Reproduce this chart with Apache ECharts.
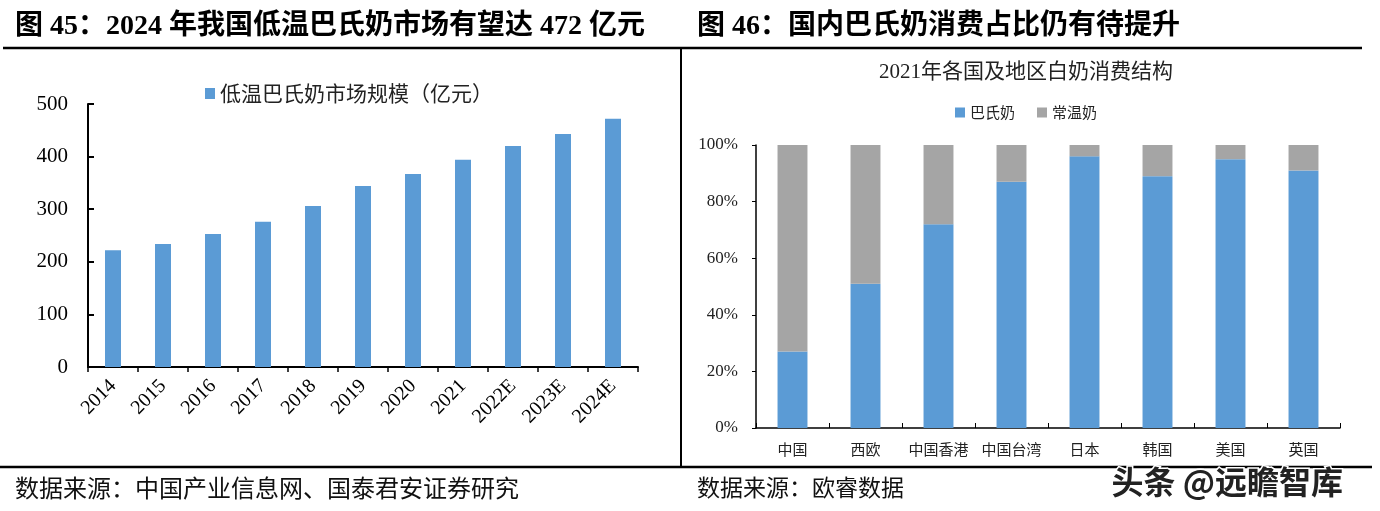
<!DOCTYPE html>
<html>
<head>
<meta charset="utf-8">
<script src="https://cdn.jsdelivr.net/npm/echarts@6/dist/echarts.min.js"></script>
<style>
html,body{margin:0;padding:0;background:#fff;}
#c{width:1380px;height:511px;}
</style>
</head>
<body>
<div id="c"></div>
<script>
// Left chart data
const yearsLeft = ['2014','2015','2016','2017','2018','2019','2020','2021','2022E','2023E','2024E'];
const marketSize = [222, 234, 253, 276, 306, 344, 367, 394, 420, 443, 472];
const leftSeriesName = '低温巴氏奶市场规模（亿元）';

// Right chart data
const regions = ['中国','西欧','中国香港','中国台湾','日本','韩国','美国','英国'];
const pasteurized = [27, 51, 72, 87, 96, 89, 95, 91];
const ambient = [73, 49, 28, 13, 4, 11, 5, 9];
const rightNames = ['巴氏奶','常温奶'];

const titleLeft = '图 45：2024 年我国低温巴氏奶市场有望达 472 亿元';
const titleRight = '图 46：国内巴氏奶消费占比仍有待提升';
const rightChartTitle = '2021年各国及地区白奶消费结构';
const sourceLeft = '数据来源：中国产业信息网、国泰君安证券研究';
const sourceRight = '数据来源：欧睿数据';
const watermark = '头条 @远瞻智库';

const SERIF = "'Liberation Serif','Times New Roman','Noto Sans CJK SC',serif";
const CJK = "'Noto Sans CJK SC',sans-serif";
const BLUE = '#5B9BD5', GRAY = '#A5A5A5';

const chart = echarts.init(document.getElementById('c'), null, {renderer:'canvas'});
chart.setOption({
  animation:false,
  backgroundColor:'#fff',
  textStyle:{fontFamily:CJK},
  title:[
    {text:rightChartTitle, left:1021, top:57, textAlign:'center',
     textStyle:{fontFamily:"'Liberation Serif','Noto Sans CJK SC'", fontSize:21, fontWeight:'normal', color:'#222'}}
  ],
  legend:[
    {data:[leftSeriesName], left:200, top:78, itemWidth:10, itemHeight:11, itemGap:6,
     icon:'rect', textStyle:{fontSize:21, color:'#222', fontFamily:CJK}},
    {data:rightNames, left:950, top:100, itemWidth:10, itemHeight:10, itemGap:22,
     icon:'rect', textStyle:{fontSize:15, color:'#222', fontFamily:CJK}}
  ],
  grid:[
    {left:88, top:104, width:550, height:263, containLabel:false},
    {left:756, top:145, width:584, height:283, containLabel:false}
  ],
  xAxis:[
    {type:'category', gridIndex:0, data:yearsLeft,
     axisLine:{lineStyle:{color:'#000', width:2}},
     axisTick:{show:true, inside:false, length:5, lineStyle:{color:'#000', width:1.5}},
     axisLabel:{rotate:45, fontFamily:SERIF, fontSize:20, color:'#000', margin:16, interval:0}},
    {type:'category', gridIndex:1, data:regions,
     axisLine:{lineStyle:{color:'#000', width:1.5}},
     axisTick:{show:true, inside:true, length:5, lineStyle:{color:'#000', width:1}},
     axisLabel:{fontFamily:CJK, fontSize:15, color:'#222', margin:14, interval:0}}
  ],
  yAxis:[
    {type:'value', gridIndex:0, min:0, max:500, interval:100,
     axisLine:{show:true, lineStyle:{color:'#000', width:2}},
     axisTick:{show:true, inside:true, length:6, lineStyle:{color:'#000', width:2}},
     splitLine:{show:false},
     axisLabel:{fontFamily:SERIF, fontSize:21, color:'#000', margin:20}},
    {type:'value', gridIndex:1, min:0, max:100, interval:20,
     axisLine:{show:true, lineStyle:{color:'#000', width:1.5}},
     axisTick:{show:true, inside:false, length:4, lineStyle:{color:'#000', width:1}},
     splitLine:{show:false},
     axisLabel:{fontFamily:SERIF, fontSize:17, color:'#222', margin:18, formatter:'{value}%'}}
  ],
  series:[
    {name:leftSeriesName, type:'bar', xAxisIndex:0, yAxisIndex:0, data:marketSize,
     barWidth:'32%', itemStyle:{color:BLUE}},
    {name:rightNames[0], type:'bar', stack:'s', xAxisIndex:1, yAxisIndex:1, data:pasteurized,
     barWidth:'41%', itemStyle:{color:BLUE}},
    {name:rightNames[1], type:'bar', stack:'s', xAxisIndex:1, yAxisIndex:1, data:ambient,
     barWidth:'41%', itemStyle:{color:GRAY}}
  ],
  graphic:[
    {type:'text', left:15, top:13, style:{text:titleLeft, font:"bold 28px "+SERIF, fill:'#000'}},
    {type:'text', left:697, top:13, style:{text:titleRight, font:"bold 28px "+SERIF, fill:'#000'}},
    {type:'line', shape:{x1:3, y1:48, x2:1362, y2:48}, style:{stroke:'#000', lineWidth:2.5}},
    {type:'line', shape:{x1:681, y1:48, x2:681, y2:467}, style:{stroke:'#000', lineWidth:2}},
    {type:'line', shape:{x1:0, y1:467, x2:1372, y2:467}, style:{stroke:'#000', lineWidth:2.5}},
    {type:'text', left:15, top:476, style:{text:sourceLeft, font:"24px "+CJK, fill:'#111'}},
    {type:'text', left:697, top:476, style:{text:sourceRight, font:"23px "+CJK, fill:'#111'}},
    {type:'text', left:1110, top:464, z:100, style:{text:watermark, font:"bold 32px "+CJK, fill:'#222', stroke:'#fff', lineWidth:3}}
  ]
});
</script>
</body>
</html>
